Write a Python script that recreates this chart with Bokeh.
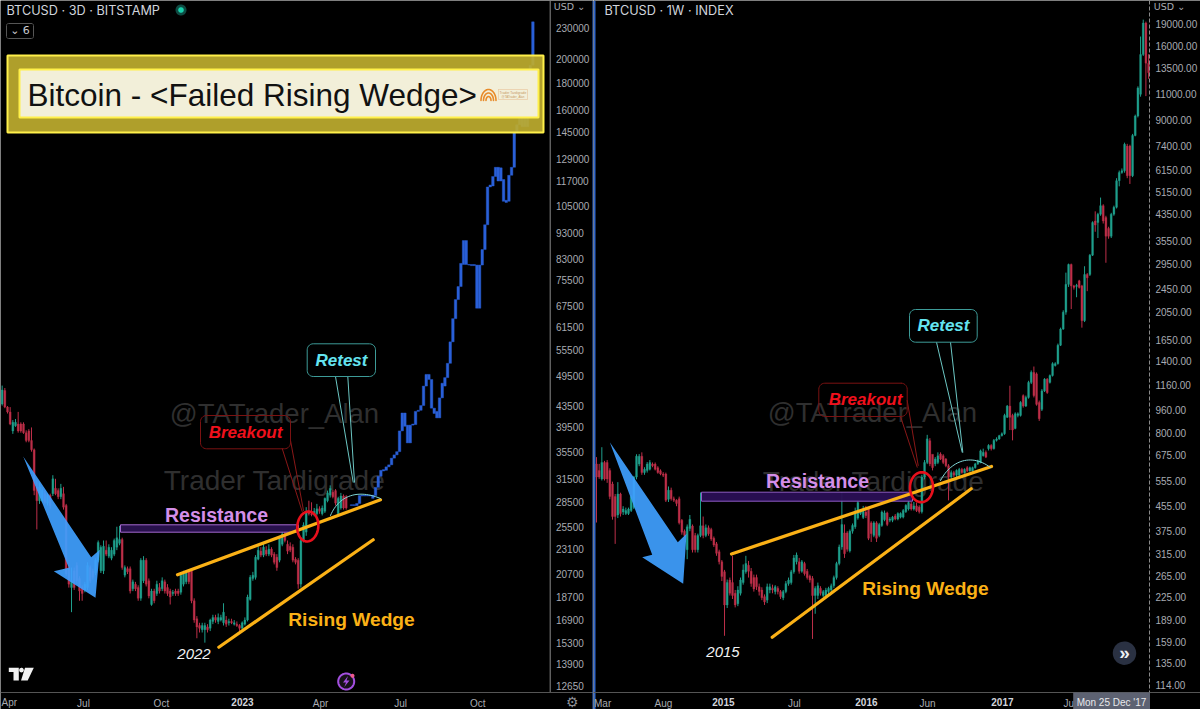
import math
import numpy as np
from bokeh.core.properties import value
from bokeh.embed import file_html
from bokeh.layouts import row
from bokeh.models import BoxAnnotation, FixedTicker, Label, LinearAxis, LogAxis, Range1d
from bokeh.plotting import figure
from bokeh.resources import INLINE

# ---------- data: left chart, BTCUSD 3D, prices in thousands of USD ----------
left_open = [43.8,46.5,43.2,42.3,38.9,39.8,40.1,40.1,40.1,38.6,38.9,37.3,35.8,30.4,28.6,28.6,29.5,28.3,29.3,29.5,30.2,29.9,29.1,29.5,28.0,21.3,19.5,21.0,21.5,20.3,19.5,19.3,19.5,21.3,21.0,20.8,22.0,21.0,21.0,23.0,22.4,22.2,22.6,23.3,23.7,24.1,20.6,21.2,21.2,19.4,19.8,19.5,18.6,20.1,22.0,20.1,18.1,19.2,19.0,19.5,19.4,20.0,19.5,19.2,19.0,19.2,19.2,19.1,19.8,20.0,21.0,21.0,18.4,17.0,16.5,16.2,16.2,16.4,16.3,16.8,17.1,16.8,16.9,16.7,16.9,16.7,16.8,16.6,16.6,16.5,16.3,16.6,16.9,18.5,20.3,20.4,22.1,22.9,22.5,23.0,22.6,23.1,22.6,22.3,22.0,23.6,24.6,23.6,23.4,23.3,22.1,22.0,19.8,24.0,24.9,27.2,27.0,26.9,27.0,27.6,27.0,27.3,28.6,29.3,29.7,29.9,27.0,27.7,29.2,29.1]
left_close = [46.6,43.2,42.3,40.1,40.4,40.4,38.9,38.9,38.6,37.3,37.3,35.8,29.9,28.6,30.4,29.9,28.4,29.3,28.0,31.5,29.5,29.1,30.2,27.8,20.7,19.8,20.1,19.5,20.1,19.2,19.0,19.8,21.5,20.1,20.4,22.0,23.8,23.3,23.4,22.6,23.3,23.0,24.0,24.3,24.1,21.3,21.3,20.9,19.2,20.0,19.4,18.6,22.0,22.0,19.8,18.8,19.2,18.4,19.8,19.2,20.1,19.2,19.0,18.7,19.1,19.0,19.0,20.6,20.7,20.8,20.0,18.4,16.9,16.4,16.3,16.5,16.5,16.2,16.9,17.1,16.9,17.1,17.1,17.5,16.6,16.8,16.7,16.7,16.5,16.3,16.7,16.9,18.7,20.4,20.6,22.3,23.0,22.5,23.3,22.6,23.1,22.5,21.8,21.3,24.3,24.7,24.0,22.9,23.0,22.0,21.8,19.8,24.0,25.7,27.2,27.0,26.9,27.3,27.6,27.3,27.7,28.9,29.6,30.2,29.1,28.3,28.9,29.2,27.7,27.7]
left_high = [47.5,47.0,43.4,43.2,40.8,41.0,42.3,40.4,40.4,39.0,39.2,39.5,36.0,31.3,31.0,30.2,29.9,29.5,29.5,32.0,31.5,30.2,30.8,30.4,28.2,21.5,21.3,21.3,21.8,20.5,19.7,20.0,21.8,21.5,21.2,22.2,24.0,23.5,24.0,24.0,23.6,23.3,24.2,25.5,25.6,24.3,21.5,21.4,21.4,20.2,20.0,19.7,22.2,22.4,22.2,20.3,19.4,19.4,20.1,19.9,20.4,20.2,19.8,19.4,19.3,19.4,19.4,20.8,21.0,21.0,21.1,21.1,18.6,17.2,16.7,16.7,16.7,16.6,17.0,17.3,17.3,17.4,17.3,18.2,17.2,17.0,17.0,16.9,16.8,16.6,16.8,17.1,18.9,20.6,20.9,22.5,23.4,23.3,23.8,23.4,23.6,23.3,22.8,22.6,24.5,25.0,24.9,24.0,23.8,23.6,22.3,22.2,24.2,26.0,27.8,28.6,28.4,27.7,28.2,27.9,28.0,29.0,29.9,30.6,30.0,30.1,29.1,29.6,29.4,29.3]
left_low = [43.5,43.0,42.0,39.9,38.4,39.6,38.6,38.6,38.4,37.0,37.0,35.5,29.3,25.2,28.2,28.4,28.2,28.0,27.6,29.2,29.3,28.8,28.8,27.5,20.5,19.5,17.5,19.3,19.8,18.4,18.4,19.1,19.3,19.9,20.2,20.6,21.8,20.8,20.7,22.4,22.2,22.0,22.4,23.0,23.5,21.1,20.4,20.7,19.0,19.2,19.2,18.4,18.4,19.9,19.6,18.6,18.0,18.2,18.8,19.0,19.2,19.0,18.8,18.1,18.8,18.8,18.8,18.9,19.6,19.8,19.8,18.2,16.7,15.6,16.0,16.0,15.3,16.0,16.1,16.6,16.7,16.6,16.8,16.5,16.4,16.5,16.6,16.5,16.4,16.1,16.2,16.5,16.8,18.4,20.1,20.2,22.0,22.3,22.3,22.4,22.4,22.3,21.6,21.0,21.8,23.4,23.8,22.6,22.8,21.8,21.6,19.4,19.5,23.8,24.5,26.8,26.7,26.7,26.8,27.0,26.8,27.1,28.4,29.0,28.9,28.0,26.8,27.5,27.5,27.5]

# blue projected path, one bar per 3D period (thousands of USD)
proj_start = 131
proj_low = [28.0,28.0,28.0,28.25,29.2,29.2,29.2,29.2,28.9,29.26,30.33,31.85,32.6,32.7,33.2,33.5,34.5,35,35.5,38.9,39.7,36.9,36.9,39.9,40,42.4,42.6,43.5,47.4,48.8,43,42,41.2,41.2,45,47.4,49.2,52.4,57.6,63.8,69.4,73.5,81,81,80.8,80.6,80.6,66.8,66.8,80.8,86.5,96.5,114,114.5,119.4,117,117,107,106.5,107,120,124.3,145,150,148.6,148.6,148.6,155,195]
proj_high = [28.1,28.1,28.25,29.26,29.3,29.3,29.3,29.3,29.3,30.33,31.85,32.7,32.8,33.2,33.5,34.5,35,35.5,38.9,42.1,42.1,39.9,39.9,40.1,42.4,42.6,43.5,47.4,49.9,49.9,48.8,43,42.4,45,48,49.2,52.4,57.6,63.8,69.4,73.5,81.4,90,90,81,81,81,80.8,80.8,86.5,96.5,114,115,119.4,124.3,124.3,124,117.8,107.5,120,124.3,145,150,155,155,155,155,195,236]

left_price_ticks = [230000,200000,180000,160000,145000,129000,117000,105000,93000,83000,75500,67500,61500,55500,49500,43500,39500,35500,31500,28500,25500,23100,20700,18700,16900,15300,13900,12650]
left_month_ticks = [30.5,59.7,119.4,149.4,178.3]
left_month_labels = ["Jul","Oct","Apr","Jul","Oct"]
left_year_ticks = [90.1]
left_year_labels = ["2023"]

# ---------- data: right chart, BTCUSD 1W, prices in USD ----------
right_open = [631,600,562,638,638,600,540,490,425,500,435,430,430,440,450,570,630,670,590,600,605,630,630,613,598,584,584,480,515,482,476,482,408,375,325,383,390,363,325,363,391,363,385,380,355,340,320,296,274,212,257,252,232,214,232,252,274,288,275,262,262,244,238,226,220,238,241,235,241,235,224,235,250,252,274,296,296,275,292,275,265,260,228,228,241,228,228,235,238,246,262,292,332,370,370,322,375,388,415,430,417,435,445,400,363,400,363,392,410,432,408,408,422,412,418,418,436,445,463,445,456,452,436,570,638,755,680,631,638,681,672,655,622,570,590,578,578,605,590,613,598,598,613,631,638,672,690,
 710,728,710,757,765,785,797,905,987,918,830,918,918,1070,987,1055,1185,1280,1266,1015,962,1110,1215,1185,1250,1350,1370,1580,1790,2040,2530,2950,2500,2490,2600,2500,1910,2730,2730,3170,4130,4080,4350,4650,4240,3900,3670,4350,4590,5640,6010,6090,7370,7370,5860,8000,9300,11000,14970,19100,14000]
right_close = [570,570,638,562,562,490,420,420,500,430,445,440,445,490,570,670,670,590,605,630,638,622,605,590,584,578,476,515,482,476,465,400,372,363,388,411,325,325,363,391,363,385,368,353,337,316,296,264,212,252,232,228,212,238,257,278,292,275,250,240,244,235,224,217,244,244,238,244,235,226,235,250,257,274,305,312,275,296,270,262,257,228,241,246,232,235,238,241,246,262,292,332,395,315,326,375,392,435,468,436,443,423,355,368,400,355,395,435,432,395,412,418,412,430,430,440,458,468,445,456,440,436,570,638,766,631,613,655,672,655,638,622,570,590,578,600,605,590,605,598,613,613,631,646,698,690,665,
 728,710,757,765,785,797,918,987,905,820,930,930,1015,987,1055,1185,1282,1070,1000,895,1110,1215,1095,1250,1370,1370,1580,1790,2040,2530,2950,2500,2470,2510,2470,1910,2730,2660,3170,4080,4000,4350,4650,4130,3670,3670,4350,4590,5640,6010,6090,7470,5860,5860,8000,9300,11560,14970,19100,14000,13000]
right_high = [665,631,718,646,650,610,550,500,548,505,455,450,450,495,575,680,681,690,615,640,650,638,638,620,605,592,590,530,525,490,480,490,412,380,395,425,395,370,368,506,420,395,392,385,360,345,325,300,278,258,262,310,238,245,262,290,310,298,282,268,268,250,243,230,250,250,248,247,245,238,238,255,262,278,312,318,305,300,296,280,268,265,245,252,245,238,242,244,250,266,296,338,506,395,375,380,398,450,476,445,456,456,450,405,405,405,400,440,440,436,418,422,428,434,434,445,462,474,470,470,468,458,580,650,790,770,640,665,690,690,680,660,630,600,598,605,612,612,610,620,618,618,636,652,705,710,700,
 735,735,765,775,790,805,930,995,1155,930,940,940,1025,1080,1070,1200,1300,1340,1280,1030,1125,1225,1225,1260,1385,1385,1600,1810,2070,2770,2970,2970,2520,2540,2620,2520,2910,2760,3200,4120,4450,4400,4950,4700,4300,3950,4400,4650,5750,6100,6200,7570,7500,7450,8100,9400,11700,17200,19600,19300,15000]
right_low = [401,562,555,555,545,480,410,340,415,420,425,425,425,435,445,560,620,580,580,590,600,615,600,585,578,570,470,470,475,470,455,395,365,358,302,375,318,318,318,358,355,358,362,348,332,310,290,255,167,207,228,222,208,210,228,248,270,262,244,235,238,228,220,212,215,232,232,230,230,222,220,232,246,248,270,290,270,272,266,258,252,163,198,222,228,225,224,230,234,242,258,288,325,305,320,318,368,382,410,425,412,415,350,345,358,345,358,388,405,390,402,402,408,408,414,414,432,440,440,440,435,430,430,560,630,620,600,620,630,650,630,615,476,555,570,570,572,585,586,592,594,594,608,626,634,668,660,
 700,700,705,750,760,780,790,900,820,757,825,905,910,975,980,1045,1170,1055,990,880,950,1100,1085,1175,1240,1340,1360,1570,1780,2000,2480,2090,2430,2290,2450,1810,1890,2400,2700,3150,3800,3620,4300,4050,2990,3600,3620,4300,4550,5400,5950,6000,5750,5500,5800,7950,9200,10800,14800,10850,12400]

right_price_ticks = [19000,16000,13500,11000,9000,7400,6150,5150,4350,3550,2950,2450,2050,1650,1400,1160,960,800,675,555,455,375,315,265,225,189,159,135,114]
right_month_ticks = [2.3,25.1,74.2,124.1,178.1]
right_month_labels = ["Mar","Aug","Jul","Jun","Jun"]
right_year_ticks = [47.6,101.2,152.2]
right_year_labels = ["2015","2016","2017"]

# ---------- styles ----------
BG = "#000000"
GREEN = "#1f9f8c"
RED = "#bd2f49"
AXIS_TXT = "#a8abb2"
YEAR_TXT = "#d1d4dc"
ORANGE = "#fbb116"
PROJ = "#2a60d8"
SEP = "#2f66cc"
ARROW = "#3fa0ff"
WM = "#2f2f2f"
SANS = "Liberation Sans"
TICK_PX = 10
AXIS_Y = 692
PAGE_H = 709


def lx(px):
    return (px - 1.67) / 2.667


def ly(py):
    return 28500 * math.exp(-(py - 501) / 226.9)


def rx(px):
    return (px - 596) / 2.667


def ry(py):
    return 555 * math.exp(-(py - 480) / 129.3)


def make_fig(width, fx, fy, x0, x1):
    p = figure(width=width, height=PAGE_H, output_backend="svg", toolbar_location=None,
               y_axis_type="log", y_axis_location=None, x_axis_location=None,
               x_range=Range1d(fx(x0), fx(x1)), y_range=Range1d(fy(PAGE_H), fy(0)),
               background_fill_color=BG, border_fill_color=BG,
               min_border_left=0, min_border_top=0, min_border_right=0, min_border_bottom=0,
               outline_line_color=None)
    p.grid.visible = False
    return p


def style_axis(ax, font_style="normal", color=AXIS_TXT, standoff=0):
    ax.axis_line_color = None
    ax.major_tick_line_color = None
    ax.minor_tick_line_color = None
    ax.major_tick_out = 0
    ax.major_tick_in = 0
    ax.minor_tick_out = 0
    ax.minor_tick_in = 0
    ax.major_label_standoff = standoff
    ax.major_label_text_color = color
    ax.major_label_text_font = SANS
    ax.major_label_text_font_size = f"{TICK_PX}px"
    ax.major_label_text_font_style = font_style


def price_axis(p, ticks, fmt, fx, axis_px):
    # a fixed_location axis takes no panel space, so the frame fills the canvas
    ax = LogAxis(fixed_location=fx(axis_px),
                 ticker=FixedTicker(ticks=ticks, minor_ticks=[]),
                 major_label_overrides={t: fmt(t) for t in ticks})
    style_axis(ax, standoff=6)
    p.add_layout(ax, "right")


def time_axes(p, fy, month_ticks, month_labels, year_ticks, year_labels):
    a = LinearAxis(fixed_location=fy(AXIS_Y), ticker=FixedTicker(ticks=month_ticks, minor_ticks=[]),
                   major_label_overrides=dict(zip(month_ticks, month_labels)))
    style_axis(a, standoff=5)
    p.add_layout(a, "below")
    b = LinearAxis(fixed_location=fy(AXIS_Y), ticker=FixedTicker(ticks=year_ticks, minor_ticks=[]),
                   major_label_overrides=dict(zip(year_ticks, year_labels)))
    style_axis(b, "bold", YEAR_TXT, standoff=5)
    p.add_layout(b, "below")


def candles(p, xs, o, c, h, l):
    o, c, h, l = map(np.asarray, (o, c, h, l))
    up = c >= o
    colors = [GREEN if u else RED for u in up]
    p.segment(xs, l, xs, h, color=colors, line_width=1)
    p.vbar(x=xs, width=0.72, bottom=np.minimum(o, c), top=np.maximum(o, c),
           fill_color=colors, line_color=colors, line_width=0.3)


class Pen:
    """Draws decorations given in window pixels through the figure's own scales."""

    def __init__(self, p, fx, fy, ox):
        self.p, self.fx, self.fy, self.ox = p, fx, fy, ox

    def line(self, pts, color, width=1.0, alpha=1.0, cap="round", dash=()):
        self.p.line([self.fx(a) for a, _ in pts], [self.fy(b) for _, b in pts],
                    line_color=color, line_width=width, line_alpha=alpha, line_cap=cap,
                    line_dash=list(dash))

    def poly(self, pts, fill, alpha=1.0, line=None, width=1.0):
        self.p.patch([self.fx(a) for a, _ in pts], [self.fy(b) for _, b in pts],
                     fill_color=fill, fill_alpha=alpha, line_color=line, line_width=width)

    def rect(self, x0, y0, x1, y1, fill, alpha=1.0, line=None, width=1.0):
        self.poly([(x0, y0), (x1, y0), (x1, y1), (x0, y1)], fill, alpha, line, width)

    def text(self, x, y, txt, color, size, style="normal", font=SANS, align="center"):
        self.p.text([self.fx(x)], [self.fy(y)], text=[txt], text_color=color,
                    text_font=value(font), text_font_size=f"{size}px", text_font_style=style,
                    text_align=align, text_baseline="middle")


def ellipse(cx, cy, a, b, tilt=0.0, t0=0.0, t1=2 * math.pi, n=48):
    out = []
    for t in np.linspace(t0, t1, n):
        u, v = a * math.cos(t), b * math.sin(t)
        out.append((cx + u * math.cos(tilt) - v * math.sin(tilt), cy + u * math.sin(tilt) + v * math.cos(tilt)))
    return out


def round_rect(x0, y0, x1, y1, r):
    pts = []
    for cx, cy, s in [(x1 - r, y0 + r, -math.pi / 2), (x1 - r, y1 - r, 0), (x0 + r, y1 - r, math.pi / 2), (x0 + r, y0 + r, math.pi)]:
        pts += ellipse(cx, cy, r, r, 0, s, s + math.pi / 2, 8)
    return pts + pts[:1]


def bezier(p0, p1, p2, p3, n=30):
    t = np.linspace(0, 1, n)
    return [((1 - u) ** 3 * p0[0] + 3 * (1 - u) ** 2 * u * p1[0] + 3 * (1 - u) * u ** 2 * p2[0] + u ** 3 * p3[0],
             (1 - u) ** 3 * p0[1] + 3 * (1 - u) ** 2 * u * p1[1] + 3 * (1 - u) * u ** 2 * p2[1] + u ** 3 * p3[1]) for u in t]


# ---------- left chart ----------
L = make_fig(593, lx, ly, 0, 593)
pl = Pen(L, lx, ly, 0)
price_axis(L, left_price_ticks, str, lx, 549.5)
time_axes(L, ly, left_month_ticks, left_month_labels, left_year_ticks, left_year_labels)

pl.text(274, 413, "@TATrader_Alan", WM, 27.5)
pl.text(274, 480, "Trader Tardigrade", WM, 28)

k = 1000.0
candles(L, np.arange(len(left_open)), np.array(left_open) * k, np.array(left_close) * k,
        np.array(left_high) * k, np.array(left_low) * k)
L.vbar(x=proj_start + np.arange(len(proj_low)), width=0.95, bottom=np.array(proj_low) * k, top=np.array(proj_high) * k,
       fill_color=PROJ, line_color=PROJ, line_width=0.4)

pl.poly([(22.7, 456), (90.7, 556.7), (99.3, 549.3), (95, 597.3), (53.3, 570.7), (68.3, 567.3)], ARROW, 0.92)
pl.rect(120, 524.3, 298, 531.7, "#2a1250", 0.95, "#a368cf", 1)
pl.line([(177, 574.3), (380, 499.3)], ORANGE, 3.2)
pl.line([(218.3, 646.7), (372.7, 539.3)], ORANGE, 3.2)
pl.line(ellipse(307.3, 526, 10.5, 15, 0.1), "#e8101c", 2.6)
pl.line(bezier((330, 515), (338, 496), (356, 488), (380, 498)), "#7fd6d6", 1)
pl.line([(281.7, 448), (301.7, 511)], "#8a1818", 1)
pl.line([(290, 440), (303, 510)], "#8a1818", 1)
pl.line(round_rect(200, 415, 290, 448.3, 6), "#7a1212", 1)
pl.line([(335, 376), (352.7, 481.7)], "#6cc7c4", 1)
pl.line([(347.3, 376), (354, 481.7)], "#6cc7c4", 1)
pl.poly(round_rect(306.7, 343.3, 375, 376, 6), "#000000", 1, "#3d9b98", 1)
pl.text(216, 514, "Resistance", "#d48ee8", 19.5, "bold")
pl.text(351, 619, "Rising Wedge", ORANGE, 19.2, "bold")
pl.text(245, 432, "Breakout", "#f0101c", 17, "bold italic")
pl.text(341, 360, "Retest", "#64e4f0", 17, "bold italic")
pl.text(193.5, 653, "2022", "#f0f0f0", 15, "italic")

# TradingView mark and lightning badge
pl.poly([(8.3, 667.3), (18.3, 667.3), (18.3, 680), (13, 680), (13, 671.6), (8.3, 671.6)], "#f2f2f2")
pl.poly(ellipse(21, 669.6, 2.3, 2.3), "#f2f2f2")
pl.poly([(24.5, 667.3), (33.3, 667.3), (27.2, 680), (20.5, 680)], "#f2f2f2")
pl.poly(ellipse(345.7, 681, 8, 8), "#161118", 1, "#a34fe0", 2)
pl.poly([(347.5, 675.5), (342.5, 682), (345.5, 682), (343.8, 686.5), (349, 680), (346, 680)], "#a34fe0")
pl.poly(ellipse(352, 675.3, 2, 2), "#ef5a8c")

# title banner
pl.rect(7, 55, 543, 132, "#bcab2e", 0.93, "#fff04a", 2)
pl.rect(19, 69, 538, 117, "#f7f5e8", 0.92, "#fff04a", 2)
pl.text(27, 94, "Bitcoin - <Failed Rising Wedge>", "#111111", 31.5, align="left")
for a, b in ((7.5, 11), (5, 7.5), (2.5, 4)):
    pl.line(ellipse(488, 100, a, b, 0, math.pi, 2 * math.pi, 20), "#e88b2a", 1.6)
pl.line([(498, 89), (527, 89), (527, 99), (498, 99), (498, 89)], "#e9c9a0", 0.7)
pl.text(512.5, 92.5, "Trader Tardigrade", "#c99a66", 3.4)
pl.text(512.5, 96, "@TATrader_Alan", "#c99a66", 3)

# header and frame
pl.text(6, 10, "BTCUSD · 3D · BITSTAMP", "#d1d4dc", 12.7, font="Inter", align="left")
pl.poly(ellipse(180.5, 9.5, 5.5, 5.5), "#0e4a42")
pl.poly(ellipse(180.5, 9.5, 2.8, 2.8), "#18d0ac")
pl.line(round_rect(6, 23, 33, 38, 2), "#555555", 1)
pl.text(19.5, 30, "⌄ 6", "#c8cad0", 11, font="DejaVu Sans")
pl.text(569, 5.5, "USD ⌄", AXIS_TXT, 9.5, font="DejaVu Sans")
pl.text(571.7, 701, "⚙", "#8c8f96", 14, font="DejaVu Sans")
pl.text(1, 702, "Apr", AXIS_TXT, TICK_PX, align="left")
pl.line([(549.7, 0), (549.7, 692)], "#8a8a8a", 1, cap="butt")
pl.line([(0, 692), (593, 692)], "#555555", 1, cap="butt")
pl.rect(592, 0, 593, 709, SEP)

# ---------- right chart ----------
R = make_fig(607, rx, ry, 593, 1200)
pr = Pen(R, rx, ry, 593)
price_axis(R, right_price_ticks, lambda t: f"{t}.00", rx, 1149)
time_axes(R, ry, right_month_ticks, right_month_labels, right_year_ticks, right_year_labels)

pr.text(872, 412, "@TATrader_Alan", WM, 27.5)
pr.text(873, 481, "Trader Tardigrade", WM, 28)

candles(R, np.arange(len(right_open)), right_open, right_close, right_high, right_low)

pr.poly([(609.3, 441.7), (677.3, 541.7), (686, 533.3), (682.7, 583.3), (641.7, 556.7), (651.7, 554.3)], ARROW, 0.92)
pr.rect(701, 491.7, 912, 500.7, "#2a0f55", 0.95, "#8f5cc4", 1)
pr.line([(731, 553.5), (991, 466)], ORANGE, 3.2)
pr.line([(771.7, 636.7), (970.7, 488.3)], ORANGE, 3.2)
pr.line(ellipse(921, 486.7, 11.5, 15, 0.05), "#e8101c", 2.6)
pr.line(bezier((940, 480), (950, 461), (970, 452), (990, 467)), "#7fd6d6", 1)
pr.line([(900, 416), (916.7, 466.7)], "#8a1818", 1)
pr.line([(906.7, 400), (917.7, 465)], "#8a1818", 1)
pr.line(round_rect(818.3, 382.7, 906.7, 416, 6), "#7a1212", 1)
pr.line([(936, 341.7), (961.7, 451.7)], "#6cc7c4", 1)
pr.line([(950, 341.7), (962.3, 451.7)], "#6cc7c4", 1)
pr.poly(round_rect(909, 309, 976.7, 341.7, 6), "#000000", 1, "#3d9b98", 1)
pr.text(817, 480, "Resistance", "#d48ee8", 19.5, "bold")
pr.text(925, 588, "Rising Wedge", ORANGE, 19.2, "bold")
pr.text(865, 399, "Breakout", "#f0101c", 17, "bold italic")
pr.text(943, 325, "Retest", "#64e4f0", 17, "bold italic")
pr.text(722.5, 651, "2015", "#f0f0f0", 15, "italic")
pr.poly(ellipse(1124, 652.7, 11.7, 11.7), "#2a3142")
pr.text(1124, 651.5, "»", "#eef0f4", 19, "bold")

pr.text(604, 10, "BTCUSD · 1W · INDEX", "#d1d4dc", 12.7, font="Inter", align="left")
pr.text(1169, 5.5, "USD ⌄", AXIS_TXT, 9.5, font="DejaVu Sans")
pr.rect(593, 0, 595, 709, SEP)
pr.line([(593, 692), (1200, 692)], "#555555", 1, cap="butt")
pr.line([(1149, 0), (1149, 692)], "#8a8a8a", 1, cap="butt", dash=(4, 2))
R.add_layout(BoxAnnotation(left=1072.7 - 593, right=1149.5 - 593, top=692, bottom=709,
                           left_units="canvas", right_units="canvas", top_units="canvas", bottom_units="canvas",
                           fill_color="#5d6272", fill_alpha=1.0, line_alpha=0, level="overlay"))
R.add_layout(Label(x=1111 - 593, y=701.5, x_units="canvas", y_units="canvas", text="Mon 25 Dec '17",
                   text_color="#e8e9ec", text_font=SANS, text_font_size="10px", text_align="center",
                   text_baseline="middle", level="overlay"))

page = row(L, R, spacing=0)
open("out.html", "w").write(file_html(page, INLINE))
